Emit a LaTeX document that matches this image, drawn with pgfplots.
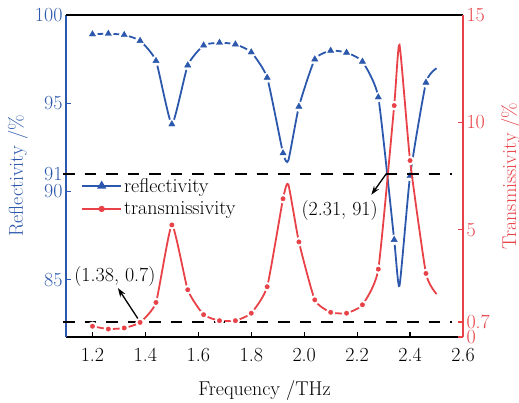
\documentclass[border=0pt]{standalone}
\usepackage{pgfplots}
\pgfplotsset{compat=1.18}
\usepackage{pgfplotstable}
\usetikzlibrary{arrows.meta}
\definecolor{cblue}{RGB}{43,88,172}
\definecolor{cred}{RGB}{232,66,72}

\pgfplotstableread{
f r
1.20 98.91
1.26 98.94
1.32 98.87
1.38 98.54
1.44 97.40
1.50 93.81
1.56 97.15
1.62 98.28
1.68 98.43
1.74 98.34
1.80 97.89
1.86 96.45
1.92 92.17
1.94 91.75
1.98 94.81
2.04 97.49
2.10 97.98
2.16 97.87
2.22 97.36
2.28 95.34
2.34 87.26
2.36 84.65
2.40 90.88
2.46 96.17
2.50 96.98
}\refall

\pgfplotstableread{
f r
1.20 98.91
1.26 98.94
1.32 98.87
1.38 98.54
1.44 97.40
1.50 93.81
1.56 97.15
1.62 98.28
1.68 98.43
1.74 98.34
1.80 97.89
1.86 96.45
1.92 92.17
1.98 94.81
2.04 97.49
2.10 97.98
2.16 97.87
2.22 97.36
2.28 95.34
2.34 87.26
2.40 90.88
2.46 96.17
}\refmk

\pgfplotstableread{
f t
1.20 0.50
1.26 0.37
1.32 0.42
1.38 0.68
1.44 1.61
1.50 5.22
1.56 2.20
1.62 1.04
1.68 0.76
1.74 0.76
1.80 1.11
1.86 2.34
1.92 6.44
1.94 7.11
1.98 4.43
2.04 1.73
2.10 1.15
2.16 1.11
2.22 1.50
2.28 3.16
2.34 10.78
2.36 13.61
2.40 8.22
2.46 2.96
2.50 2.00
}\trall

\pgfplotstableread{
f t
1.20 0.50
1.26 0.37
1.32 0.42
1.38 0.68
1.44 1.61
1.50 5.22
1.56 2.20
1.62 1.04
1.68 0.76
1.74 0.76
1.80 1.11
1.86 2.34
1.92 6.44
1.98 4.43
2.04 1.73
2.10 1.15
2.16 1.11
2.22 1.50
2.28 3.16
2.34 10.78
2.40 8.22
2.46 2.96
}\trmk

\begin{document}
\begin{tikzpicture}[font=\fontsize{20}{24}\selectfont]
\path[use as bounding box] (-66pt,-66pt) rectangle (453pt,337pt);
\pgfplotsset{
  every axis/.append style={
    at={(0pt,0pt)}, anchor=south west, scale only axis,
    width=397pt, height=322pt, xmin=1.1, xmax=2.6, clip=false,
    tick align=inside, major tick length=5pt,
    /pgf/number format/assume math mode=true,
    tick label style={font=\fontsize{20}{24}\selectfont},
    label style={font=\fontsize{20}{24}\selectfont},
  },
}
\begin{axis}[
  ymin=81.75, ymax=100,
  axis x line*=bottom, axis y line*=left,
  x axis line style={-, black, line width=1.6pt},
  y axis line style={-, cblue, line width=1.6pt},
  xtick={1.2,1.4,1.6,1.8,2.0,2.2,2.4,2.6},
  xticklabels={1.2,1.4,1.6,1.8,2.0,2.2,2.4,2.6},
  xticklabel style={yshift=-8pt},
  ytick={85,90,91,95,100}, yticklabels={85,90,91,95,100},
  x tick style={black, line width=1.2pt},
  y tick style={cblue, line width=1.2pt},
  yticklabel style={cblue, inner ysep=0pt},
  xlabel={Frequency /THz},
  xlabel style={at={(axis description cs:0.5,-0.165)}, anchor=center},
  ylabel={Reflectivity /\%},
  ylabel style={cblue, at={(axis description cs:-0.121,0.5)}, anchor=center},
]
\addplot[cblue, line width=1.8pt, smooth, tension=0.3, no markers] table {\refall};
\addplot[only marks, mark=*, white, mark size=5pt] table {\refmk};
\addplot[only marks, mark=triangle*, cblue, mark size=3.6pt] table {\refmk};
\coordinate (A1) at (axis cs:1.089,91);
\coordinate (A2) at (axis cs:2.557,91);
\coordinate (P1) at (axis cs:2.31,91);
\coordinate (T1) at (axis cs:2.2536,89.81);
\coordinate (L1) at (axis cs:2.134,88.9);
\end{axis}

\begin{axis}[
  ymin=0, ymax=15,
  axis x line*=top, axis y line*=right,
  x axis line style={-, black, line width=1.6pt},
  y axis line style={-, cred, line width=1.6pt},
  xtick=\empty,
  ytick={0,0.7,5,10,15}, yticklabels={0,0.7,5,10,15},
  y tick style={cred, line width=1.2pt},
  yticklabel style={cred, inner ysep=0pt},
  ylabel={Transmissivity /\%},
  ylabel style={cred, at={(axis description cs:1.121,0.5)}, anchor=center},
  legend cell align=left,
  legend style={at={(axis description cs:0.038,0.5)}, anchor=north west,
    draw=none, fill=none, inner sep=0pt, row sep=4pt, font=\fontsize{20}{24}\selectfont},
  legend image code/.code={\draw[mark repeat=2,mark phase=2,#1] plot coordinates {(0pt,0pt) (19.5pt,0pt) (39pt,0pt)};},
]
\addlegendimage{cblue, line width=1.8pt, mark=triangle*, mark size=3.6pt}
\addlegendentry{reflectivity}
\addlegendimage{cred, line width=1.8pt, mark=*, mark size=2.2pt}
\addlegendentry{transmissivity}
\addplot[cred, line width=1.8pt, smooth, tension=0.3, no markers, forget plot] table {\trall};
\addplot[only marks, mark=*, white, mark size=4.5pt, forget plot] table {\trmk};
\draw[black, line width=1.8pt, dash pattern=on 11.5pt off 10pt] (A1) -- (A2);
\draw[black, line width=1.8pt, dash pattern=on 11.5pt off 10pt] (axis cs:1.089,0.7) -- (axis cs:2.557,0.7);
\addplot[only marks, mark=*, cred, mark size=2.2pt, forget plot] table {\trmk};
\draw[-{Stealth[length=9pt,width=6pt]}, line width=1.3pt] (axis cs:1.38,0.7) -- (axis cs:1.296,2.28);
\node at (axis cs:1.285,2.80) {(1.38, 0.7)};
\draw[-{Stealth[length=9pt,width=6pt]}, line width=1.3pt] (P1) -- (T1);
\node at (L1) {(2.31, 91)};
\end{axis}
\end{tikzpicture}
\end{document}
